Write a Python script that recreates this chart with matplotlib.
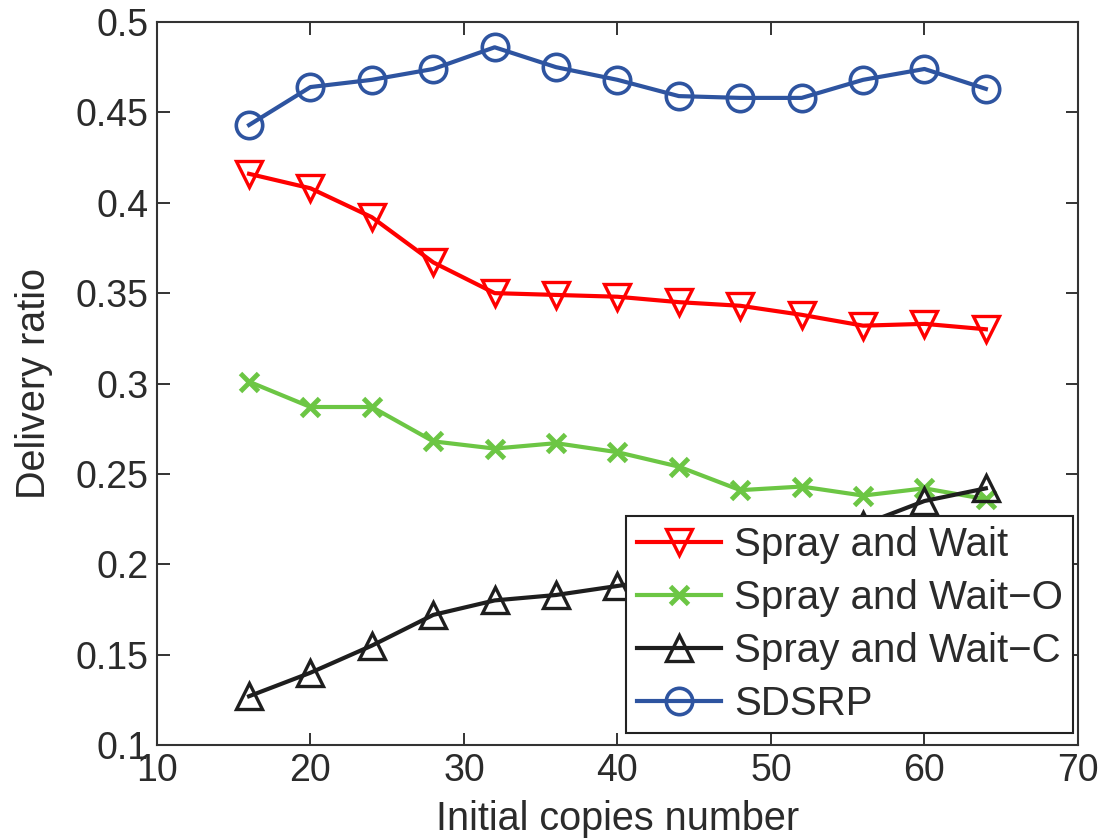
import matplotlib
matplotlib.use("Agg")
import matplotlib.pyplot as plt
from matplotlib.ticker import FuncFormatter

plt.rcParams['font.family'] = ['Liberation Sans', 'DejaVu Sans']

copies = [16, 20, 24, 28, 32, 36, 40, 44, 48, 52, 56, 60, 64]

spray_wait = [0.416, 0.408, 0.392, 0.367, 0.350, 0.349, 0.348, 0.345,
              0.343, 0.338, 0.332, 0.333, 0.330]
spray_wait_o = [0.301, 0.287, 0.287, 0.268, 0.264, 0.267, 0.262, 0.254,
                0.241, 0.243, 0.238, 0.242, 0.236]
spray_wait_c = [0.127, 0.140, 0.155, 0.172, 0.180, 0.183, 0.188, 0.193,
                0.200, 0.210, 0.222, 0.235, 0.242]
sdsrp = [0.443, 0.464, 0.468, 0.474, 0.486, 0.475, 0.468, 0.459,
         0.458, 0.458, 0.468, 0.474, 0.463]

labels = ['Spray and Wait', 'Spray and Wait\u2212O',
          'Spray and Wait\u2212C', 'SDSRP']

text_color = '#2b2b2b'

fig = plt.figure(figsize=(11.03, 8.39), dpi=100)
ax = fig.add_axes([0.1423, 0.112, 0.835, 0.8618])

ax.plot(copies, spray_wait, color='#ff0000', lw=3, marker='v', ms=19,
        mfc='none', mew=2.4, label=labels[0])
ax.plot(copies, spray_wait_o, color='#6cc644', lw=3, marker='x', ms=13,
        mew=3.5, label=labels[1])
ax.plot(copies, spray_wait_c, color='#1e1e1e', lw=3, marker='^', ms=19,
        mfc='none', mew=2.4, label=labels[2])
ax.plot(copies, sdsrp, color='#2e54a0', lw=3, marker='o', ms=19,
        mfc='none', mew=2.6, label=labels[3])

ax.set_xlim(10, 70)
ax.set_ylim(0.1, 0.5)
ax.set_xticks(range(10, 71, 10))
ax.set_yticks([0.1, 0.15, 0.2, 0.25, 0.3, 0.35, 0.4, 0.45, 0.5])
ax.yaxis.set_major_formatter(FuncFormatter(lambda v, p: '%g' % v))

ax.tick_params(direction='in', length=9, width=1.4, top=True, right=True,
               labelsize=27, labelcolor=text_color, color='#333333', pad=6)
for sp in ax.spines.values():
    sp.set_linewidth(1.5)
    sp.set_color('#333333')

ax.set_xlabel('Initial copies number', fontsize=28.5, color=text_color, labelpad=8)
ax.set_ylabel('Delivery ratio', fontsize=28.5, color=text_color, labelpad=16)

leg = ax.legend(loc='lower right', bbox_to_anchor=(0.995, 0.016),
                fontsize=29, frameon=True, fancybox=False, framealpha=1,
                edgecolor='#222222', handlelength=2.1, handletextpad=0.32,
                labelspacing=0.37, borderpad=0.26, borderaxespad=0)
leg.get_frame().set_linewidth(1.5)
for t in leg.get_texts():
    t.set_color(text_color)

fig.savefig('out.png', dpi=100)
